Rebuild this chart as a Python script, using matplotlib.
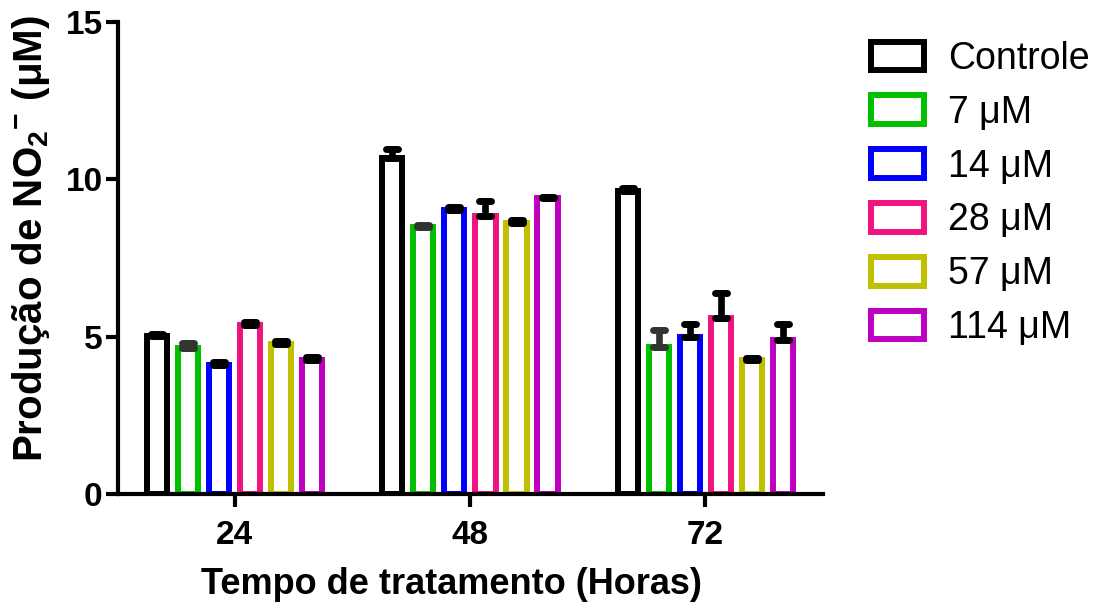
import matplotlib
matplotlib.use("Agg")
import matplotlib.pyplot as plt
import numpy as np
from matplotlib.patches import Patch
from matplotlib.markers import MarkerStyle

plt.rcParams['font.family'] = ['Liberation Sans', 'DejaVu Sans']
plt.rcParams['mathtext.fontset'] = 'custom'
plt.rcParams['mathtext.rm'] = 'Liberation Sans:bold'
plt.rcParams['mathtext.bf'] = 'Liberation Sans:bold'
plt.rcParams['mathtext.default'] = 'bf'

groups = ['24', '48', '72']
series = ['Controle', '7 μM', '14 μM', '28 μM', '57 μM', '114 μM']
colors = ['#000000', '#00C000', '#0000FF', '#F01480', '#C0C000', '#C000C0']
err_colors = ['#000000', '#333333', '#000000', '#000000', '#000000', '#000000']

values = {
    'Controle': [5.02, 10.68, 9.62],
    '7 μM':     [4.65, 8.50, 4.66],
    '14 μM':    [4.10, 9.04, 4.98],
    '28 μM':    [5.38, 8.84, 5.60],
    '57 μM':    [4.76, 8.60, 4.25],
    '114 μM':   [4.26, 9.40, 4.90],
}
errors = {
    'Controle': [0.08, 0.28, 0.10],
    '7 μM':     [0.15, 0.04, 0.55],
    '14 μM':    [0.08, 0.08, 0.42],
    '28 μM':    [0.10, 0.48, 0.80],
    '57 μM':    [0.10, 0.10, 0.06],
    '114 μM':   [0.08, 0.04, 0.50],
}

fig = plt.figure(figsize=(11.06, 6.09), dpi=100)
ax = fig.add_axes([118/1106, 1-494/609, (823-118)/1106, (494-22)/609])

x = np.arange(len(groups))
pitch = 0.132
width = 0.086
n = len(series)
handles = []
for i, s in enumerate(series):
    pos = x + (i - (n-1)/2) * pitch
    ax.bar(pos, values[s], width=width, facecolor='white', edgecolor=colors[i],
           linewidth=4.3, zorder=2)
    eb = ax.errorbar(pos, values[s], yerr=[np.zeros(3), errors[s]], fmt='none',
                     ecolor=err_colors[i], elinewidth=4.8, capsize=4.5, capthick=5,
                     zorder=3)
    for cl in eb[1]:
        cl.set_marker(MarkerStyle('_', capstyle='round'))
    for lc in eb[2]:
        lc.set_capstyle('round')
    handles.append(Patch(facecolor='white', edgecolor=colors[i], linewidth=4.3, label=s))

ax.set_xlim(-0.495, 2.5)
ax.set_ylim(0, 15)
ax.set_yticks([0, 5, 10, 15])
ax.set_xticks(x)
ax.set_xticklabels(groups)
for sp in ['top', 'right']:
    ax.spines[sp].set_visible(False)
for sp in ['left', 'bottom']:
    ax.spines[sp].set_linewidth(3)
ax.tick_params(axis='y', length=9, width=3, labelsize=24, pad=2)
ax.tick_params(axis='x', length=9, width=3, labelsize=24, pad=10)
for lab in ax.get_xticklabels() + ax.get_yticklabels():
    lab.set_fontweight('bold')

ax.set_xlabel('Tempo de tratamento (Horas)', fontsize=26, fontweight='bold')
ax.xaxis.set_label_coords((451-118)/705, -0.155)
ax.set_ylabel(r'Produção de NO$_2$$^{-}$ (μM)', fontsize=29, fontweight='bold')
ax.yaxis.set_label_coords(-0.094, 0.54)

leg = fig.legend(handles=handles, loc='upper left', bbox_to_anchor=(871/1106, 1-41/609),
                 frameon=False, fontsize=27, handlelength=1.4, handleheight=0.8,
                 labelspacing=0.475, handletextpad=0.65, borderaxespad=0, borderpad=0)

fig.savefig('out.png', dpi=100)
